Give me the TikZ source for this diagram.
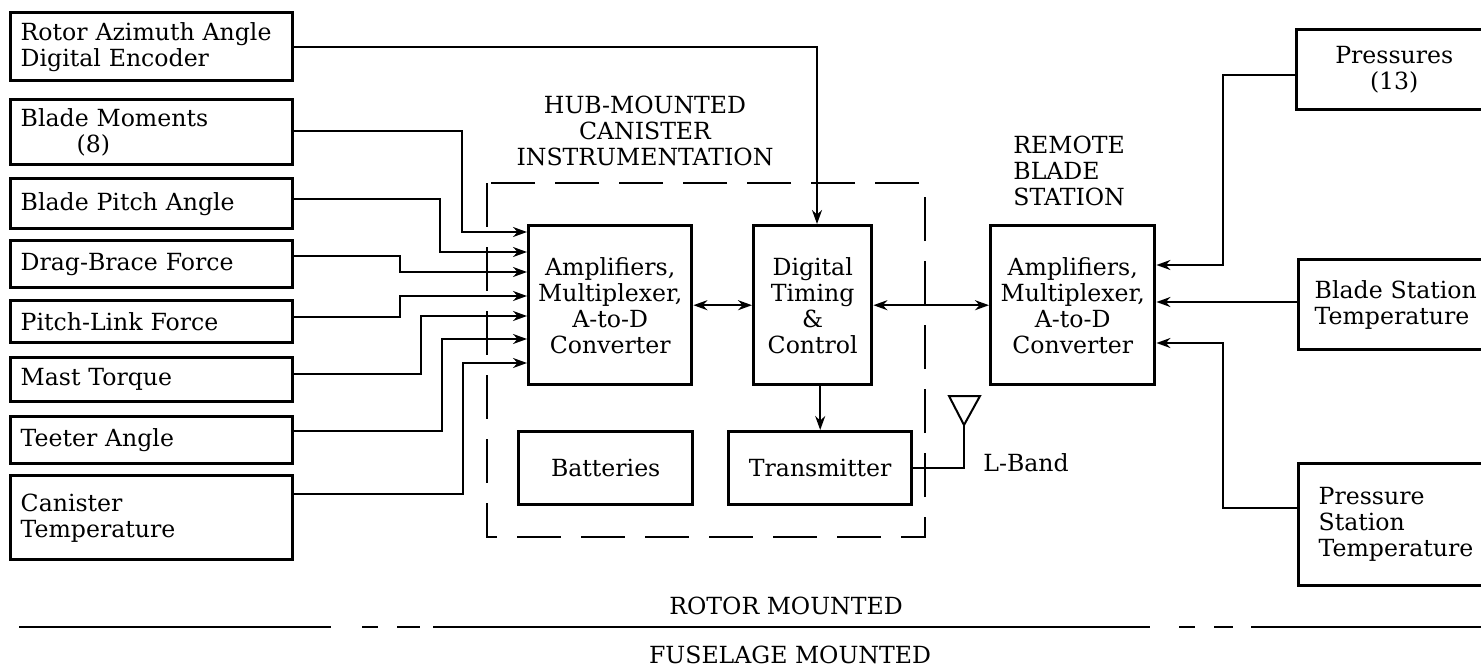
\documentclass[tikz,border=0pt]{standalone}
\usepackage{fontspec}
\setmainfont{DejaVu Serif}
\usetikzlibrary{arrows.meta}

\begin{document}
\begin{tikzpicture}[x=0.5pt, y=-0.5pt]
    \tikzset{
        box/.style={draw, line width=1.7pt, anchor=north west, inner ysep=0pt, font=\fontsize{11.8}{13}\selectfont},
        sensor/.style={box, inner xsep=5pt, text width=131pt, align=left},
        unit/.style={box, inner xsep=2pt, align=center, minimum height=79.5pt},
        heading/.style={font=\fontsize{11.8}{13}\selectfont, inner sep=0pt},
        wire/.style={line width=1pt},
        sig/.style={wire, -{Stealth[length=7pt, width=5pt]}},
        dbl/.style={wire, {Stealth[length=7pt, width=5pt]}-{Stealth[length=7pt, width=5pt]}},
        hubline/.style={line width=1pt, dash pattern=on 22pt off 10pt},
        mountline/.style={line width=1.3pt}
    }

    \useasboundingbox (0,0) rectangle (1481,669);
    \clip (0,0) rectangle (1481,669);

    % --- LEFT SENSORS ---
    \node[sensor, minimum height=34pt] (rot) at (9,11) {Rotor Azimuth Angle\\Digital Encoder};
    \node[sensor, minimum height=32.5pt] (bm) at (9,98) {Blade Moments\\\hspace*{28pt}(8)};
    \node[sensor, minimum height=25pt] (bp) at (9,177) {Blade Pitch Angle};
    \node[sensor, minimum height=23.5pt] (db) at (9,239) {Drag-Brace Force};
    \node[sensor, minimum height=21pt] (pl) at (9,299) {Pitch-Link Force};
    \node[sensor, minimum height=22pt] (mt) at (9,356) {Mast Torque};
    \node[sensor, minimum height=23.5pt] (ta) at (9,415) {Teeter Angle};
    \node[sensor, minimum height=42pt] (ct) at (9,474) {Canister\\Temperature};

    % --- HUB-MOUNTED CANISTER ---
    \draw[hubline] (487,183) rectangle (925,537);
    \node[heading, align=center, anchor=north] (hub) at (645,96) {HUB-MOUNTED\\CANISTER\\INSTRUMENTATION};
    \node[unit, minimum width=81.5pt] (amp) at (527,224) {Amplifiers,\\Multiplexer,\\A-to-D\\Converter};
    \node[unit, minimum width=59pt] (dtc) at (752,224) {Digital\\Timing\\\&\\Control};
    \node[box, minimum width=87pt, minimum height=36.5pt] (bat) at (517,430) {Batteries};
    \node[box, minimum width=91.5pt, minimum height=36.5pt] (tx) at (727,430) {Transmitter};

    % les 7 entrees du multiplexeur
    \foreach \src/\sy/\vx/\ay in {bm/131/462/232, bp/199/440/252, db/256/400/272, pl/317/400/296, mt/374/421/316, ta/431/442/339, ct/494/463/363} {
        \draw[sig] (\src.east |- 0,\sy) -| (\vx,\ay) -- (amp.west |- 0,\ay);
    }
    \draw[sig] (rot.east |- 0,47) -| (dtc.north -| 817,0);
    \draw[dbl] (amp.east) -- (dtc.west);
    \draw[sig] (dtc.south -| tx.north) -- (tx.north);

    % antenne
    \coordinate (ant) at (964,425);
    \draw[wire] (ant) -- (949,396) -- (980,396) -- cycle;
    \draw[wire] (tx.east) -| (ant);
    \node[heading, anchor=north west] (lband) at (983,453) {L-Band};

    % --- REMOTE BLADE STATION ---
    \node[heading, align=left, anchor=north west] (rbs) at (1013,136) {REMOTE\\BLADE\\STATION};
    \node[unit, minimum width=82pt] (rem) at (989,224) {Amplifiers,\\Multiplexer,\\A-to-D\\Converter};
    \draw[dbl] (dtc.east) -- (rem.west);

    % --- RIGHT SENSORS ---
    \node[box, align=center, minimum width=97.5pt, minimum height=40pt] (pr) at (1295,28) {Pressures\\(13)};
    \node[box, inner xsep=8pt, text width=83pt, align=left, minimum height=45pt] (bst) at (1297,258) {Blade Station\\Temperature};
    \node[box, inner xsep=10pt, text width=80pt, align=left, minimum height=61pt] (pst) at (1297,462) {Pressure\\Station\\Temperature};

    \draw[sig] (pr.west |- 0,75) -| (1223,265) -- (rem.east |- 0,265);
    \draw[sig] (bst.west |- 0,302) -- (rem.east |- 0,302);
    \draw[sig] (pst.west |- 0,508) -| (1223,343) -- (rem.east |- 0,343);

    % --- ROTOR / FUSELAGE ---
    \node[heading, anchor=north] (rotor) at (786,597) {ROTOR MOUNTED};
    \foreach \a/\b in {19/331, 362/378, 397/420, 433/1150, 1179/1195, 1214/1233, 1251/1481} {
        \draw[mountline] (\a,627) -- (\b,627);
    }
    \node[heading, anchor=north] (fuse) at (790,646) {FUSELAGE MOUNTED};

\end{tikzpicture}
\end{document}
